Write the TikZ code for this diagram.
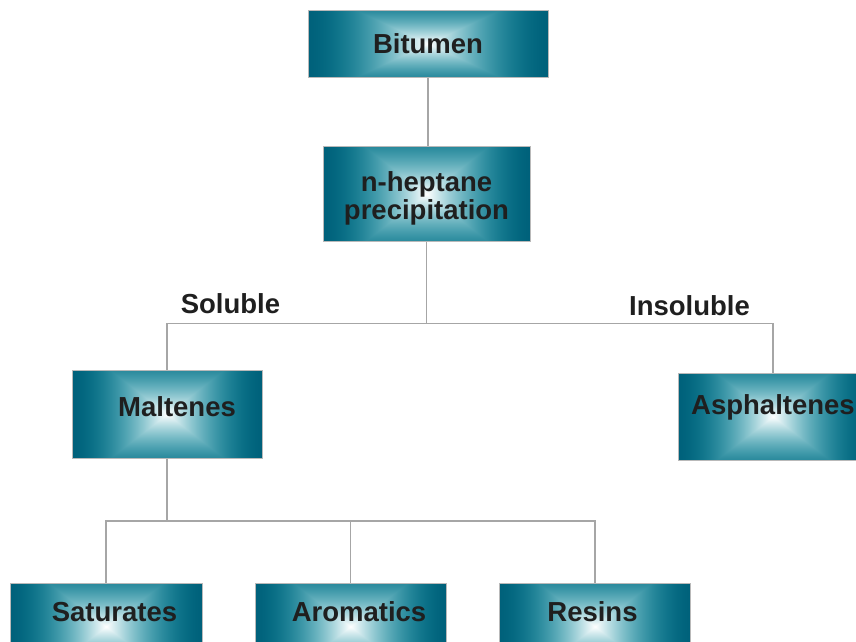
\documentclass[tikz,border=0pt]{standalone}
\usepackage{fontspec}
\setmainfont{Liberation Sans}
\usepackage{xcolor}
\usepackage{tikz}
% teal boxes: white centre, dark edges, rectangular fall-off
\pgfdeclarefunctionalshading{tealbox}{\pgfpoint{-50bp}{-50bp}}{\pgfpoint{50bp}{50bp}}{}{
  abs 0.6 mul exch abs 2 copy lt {exch} if pop 25 div dup 1 gt {pop 1} if
  1 exch sub
  dup dup
  dup sqrt mul 0.52 mul 0.48 add
  3 1 roll
  dup sqrt mul 0.62 mul 0.38 add
  3 1 roll
  dup mul
  3 1 roll
}
\tikzset{
  box/.style={shade,shading=tealbox,draw=gray!55,line width=1pt,inner sep=0pt,
    font=\fontsize{27.5}{27.5}\selectfont\bfseries,text=black!88,
    text height=20pt,text depth=0pt},
  lift/.style={text depth=#1},
  link/.style={gray!70,line width=1.2pt},
  tag/.style={font=\fontsize{27.5}{26}\selectfont\bfseries,text=black!88,
    inner sep=0pt,text height=19.7pt,text depth=0pt}
}

\begin{document}
\begin{tikzpicture}[x=1pt,y=-1pt]
  \useasboundingbox (0,0) rectangle (856,641);
  % ---------- top: bitumen and the precipitation step ----------
  \node[box,minimum width=240,minimum height=67] (bit) at (428,43.5) {Bitumen};
  \node[box,text height=50pt,minimum width=207,minimum height=95,align=center] (hep) at (426.5,194)
    {n-heptane\\precipitation};
  % ---------- middle: the two fractions ----------
  \node[box,lift=16pt,minimum width=190,minimum height=88] (mal) at (167,414) {\hspace*{20pt}Maltenes};
  \node[box,lift=24pt,minimum width=190,minimum height=87] (asp) at (773,416.5) {Asphaltenes};
  \node[tag] (sol) at (230.5,304) {Soluble};
  \node[tag] (ins) at (689.5,306) {Insoluble};
  % ---------- bottom: maltene classes ----------
  \node[box,lift=30pt,minimum width=192,minimum height=87] (sat) at (106,626.5) {\hspace*{17pt}Saturates};
  \node[box,lift=30pt,minimum width=191,minimum height=87] (aro) at (350.5,626.5) {\hspace*{17pt}Aromatics};
  \node[box,lift=30pt,minimum width=191,minimum height=87] (res) at (595,626.5) {Resins\hspace*{5pt}};
  % ---------- connectors ----------
  \draw[link] (bit.south) -- (bit.south |- hep.north);
  \draw[link] (hep.south) -- ++(0,81.7) coordinate (fork);
  \draw[link] (mal.north) |- (fork) -| (asp.north);
  \draw[link] (mal.south) -- ++(0,62.5) coordinate (split);
  \draw[link] (sat.north) |- (split) -| (res.north);
  \draw[link] (split -| aro.north) -- (aro.north);
\end{tikzpicture}
\end{document}
